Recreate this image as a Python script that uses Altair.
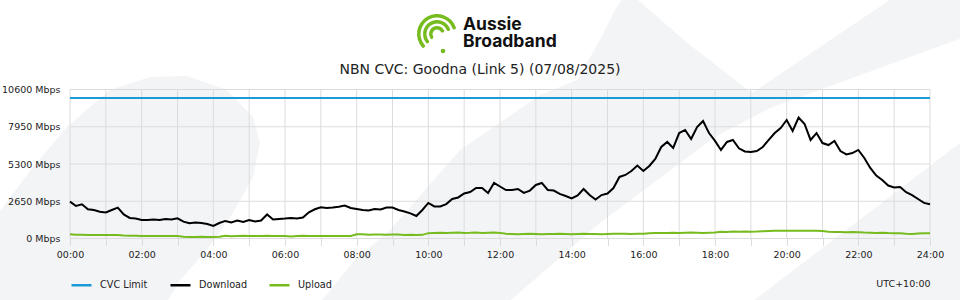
import altair as alt
import pandas as pd

# ---------------- data ----------------
times = [f"{m // 60:02d}:{m % 60:02d}" for m in range(0, 1441, 10)]

download = [
    2620, 2310, 2430, 2080, 2030, 1910, 1850, 2030, 2200, 1710,
    1460, 1420, 1320, 1320, 1350, 1320, 1390, 1350, 1440, 1200,
    1080, 1140, 1100, 1030, 890, 1100, 1250, 1140, 1270, 1170,
    1320, 1210, 1280, 1710, 1350, 1390, 1420, 1460, 1420, 1490,
    1860, 2080, 2220, 2170, 2200, 2260, 2350, 2170, 2100, 2030,
    2000, 2100, 2060, 2200, 2200, 2030, 1920, 1790, 1600, 2030,
    2530, 2280, 2280, 2450, 2810, 2920, 3200, 3310, 3590, 3590,
    3240, 3950, 3700, 3450, 3450, 3520, 3240, 3410, 3810, 3950,
    3450, 3410, 3170, 3020, 2850, 3060, 3520, 3090, 2770, 3090,
    3200, 3590, 4380, 4520, 4800, 5190, 4800, 5160, 5660, 6510,
    6870, 6440, 7500, 7720, 7080, 7930, 8360, 7500, 6940, 6300,
    6870, 7010, 6420, 6190, 6150, 6220, 6510, 7010, 7500, 7860,
    8430, 7650, 8600, 8150, 7010, 7500, 6790, 6650, 6940, 6220,
    5980, 6080, 6300, 5730, 5020, 4480, 4160, 3770, 3630, 3660,
    3290, 3090, 2810, 2530, 2430,
]

upload = [
    300, 260, 260, 250, 250, 250, 250, 250, 250,
    210, 190, 190, 180, 180, 180, 180, 180, 180, 170,
    130, 110, 110, 130, 110, 100, 120,
    190, 160, 180, 200, 170, 180, 180, 190, 170, 180, 180,
    150, 180, 190, 180, 180, 180, 170, 180, 180, 180, 180,
    300, 300, 260, 280, 290, 260, 280, 290, 250, 260, 250, 260,
    380, 400, 410, 400, 410, 420, 400, 410, 430, 400, 410, 420, 400,
    330, 320, 310, 320, 330, 320, 310, 320, 320, 330, 320, 310,
    320, 330, 320, 320, 310, 320, 330, 340, 330, 320, 330, 340,
    380, 390, 400, 400, 410, 400, 410, 420, 410, 400, 410, 420,
    480, 470, 490, 480, 500, 480, 490, 520, 540, 550, 560, 550,
    560, 560, 550, 560, 550, 540,
    480, 460, 470, 450, 460, 440, 420, 410, 400, 410, 390, 380,
    370, 330, 320, 350, 370, 370,
]

cvc_limit = 10000
series_names = ["CVC Limit", "Download", "Upload"]
series_colors = ["#1a9bd7", "#000000", "#77bc1f"]
y_ticks = [0, 2650, 5300, 7950, 10600]
hour_ticks = list(range(0, 25))
title_text = "NBN CVC: Goodna (Link 5) (07/08/2025)"
logo_lines = ["Aussie", "Broadband"]
timezone_label = "UTC+10:00"

# ---------------- layout ----------------
W, H = 860, 149
LEFT, TOP = 70, 89.5
FONT = "DejaVu Sans"
GRID = "#dcdcdc"
BG_SHAPE = "#f3f4f6"
GREEN = "#77bc1f"

rows = []
for t, d, u in zip(times, download, upload):
    h = int(t[:2]) + int(t[3:]) / 60
    rows.append({"hour": h, "series": "CVC Limit", "mbps": cvc_limit})
    rows.append({"hour": h, "series": "Download", "mbps": d})
    rows.append({"hour": h, "series": "Upload", "mbps": u})
df = pd.DataFrame(rows)

xscale = alt.Scale(domain=[0, 24], nice=False, zero=False)
yscale = alt.Scale(domain=[0, 10600], nice=False)

label_expr = "datum.value % 2 == 0 ? (datum.value < 10 ? '0' : '') + datum.value + ':00' : ''"
xaxis = alt.Axis(
    values=hour_ticks, labelExpr=label_expr, grid=False, domain=False, zindex=1,
    tickSize=7, tickColor=GRID, tickWidth=1, labelFlush=False, labelOverlap=False,
    labelFont=FONT, labelFontSize=9.5, labelColor="#222", labelPadding=4,
    title=timezone_label, titleAnchor="end", titleAlign="right", titleBaseline="middle",
    titleY=45, titleFont=FONT, titleFontSize=9.5, titleFontWeight="normal", titleColor="#222",
)
yaxis = alt.Axis(
    values=y_ticks, labelExpr="datum.value + ' Mbps'", grid=False, domain=False, zindex=1,
    ticks=False, labelPadding=10, labelFlush=False, labelOverlap=False, labelBound=False,
    title=None, labelFont=FONT, labelFontSize=9.5, labelColor="#222",
)

one = pd.DataFrame({"k": [0]})


# decorative watermark shapes (canvas pixel outlines -> symbol paths)
def shape_layer(pts, cx, cy, k=100):
    path = "M" + " L".join(f"{(x - cx) / k:.3f},{(y - cy) / k:.3f}" for x, y in pts) + " Z"
    return alt.Chart(one).mark_point(
        shape=path, size=(2 * k) ** 2, filled=True, color=BG_SHAPE, opacity=1, strokeWidth=0
    ).encode(x=alt.value(cx - LEFT), y=alt.value(cy - TOP))


left_blob = [(-10, 213), (0, 211), (33, 167), (67, 127), (110, 90), (150, 77), (187, 76),
             (227, 90), (253, 117), (260, 143), (253, 177), (233, 213), (207, 250),
             (180, 280), (165, 305), (-10, 305)]
mid_band = [(318, 305), (355, 260), (390, 230), (460, 150), (540, 95), (577, 80), (600, 40),
            (615, 10), (625, -5), (632, -5), (690, 45), (752, 93), (897, -5), (970, -5),
            (970, 35), (770, 108), (715, 137), (660, 178), (600, 223), (555, 262), (505, 305)]
right_band = [(748, 305), (960, 143), (970, 137), (970, 305)]

bg_layers = [
    shape_layer(left_blob, 130, 190),
    shape_layer(mid_band, 640, 150),
    shape_layer(right_band, 880, 230),
]

# grid (same axes as the lines so the layers merge cleanly)
hgrid = alt.Chart(pd.DataFrame({"mbps": y_ticks})).mark_rule(color=GRID, strokeWidth=1).encode(
    y=alt.Y("mbps:Q", scale=yscale, axis=yaxis)
)
vgrid = alt.Chart(pd.DataFrame({"hour": hour_ticks})).mark_rule(color=GRID, strokeWidth=1).encode(
    x=alt.X("hour:Q", scale=xscale, axis=xaxis)
)

lines = alt.Chart(df).mark_line(strokeWidth=2, interpolate="linear").encode(
    x=alt.X("hour:Q", scale=xscale, axis=xaxis),
    y=alt.Y("mbps:Q", scale=yscale, axis=yaxis),
    color=alt.Color(
        "series:N",
        scale=alt.Scale(domain=series_names, range=series_colors),
        legend=alt.Legend(
            orient="none", legendX=0, legendY=184, direction="horizontal", title=None,
            symbolType="stroke", symbolSize=400, symbolStrokeWidth=2.5,
            labelFont=FONT, labelFontSize=9.7, labelColor="#222", labelOffset=7,
            columnPadding=16, gridAlign="all", zindex=1,
        ),
    ),
    order=alt.Order("hour:Q"),
)

# chart title and logo (drawn as text above the plot)
title_mark = alt.Chart(one).mark_text(
    text=title_text, font=FONT, fontSize=14, color="#222", align="center", baseline="middle",
).encode(x=alt.value(480 - LEFT), y=alt.value(70 - TOP))

logo_marks = []
for line, base in zip(logo_lines, [30, 46.5]):
    logo_marks.append(
        alt.Chart(one).mark_text(
            text=line, font="Inter", fontSize=17.5, fontWeight="bold", color="#111",
            align="left", baseline="alphabetic",
        ).encode(x=alt.value(463 - LEFT), y=alt.value(base - TOP))
    )

logo_arcs = []
for r_out in [8, 14, 20]:
    logo_arcs.append(
        alt.Chart(one).mark_arc(
            radius=r_out, radius2=r_out - 3.5, theta=3.9, theta2=7.6,
            cornerRadius=1.7, color=GREEN,
        ).encode(x=alt.value(437 - LEFT), y=alt.value(34 - TOP))
    )
logo_dot = alt.Chart(one).mark_point(filled=True, size=22, color=GREEN, opacity=1).encode(
    x=alt.value(443 - LEFT), y=alt.value(51 - TOP)
)

chart = alt.layer(
    *bg_layers, hgrid, vgrid, lines, title_mark, *logo_marks, *logo_arcs, logo_dot
).properties(
    width=W,
    height=H,
    autosize=alt.AutoSizeParams(type="none"),
    padding={"left": LEFT, "top": TOP, "right": 960 - LEFT - W, "bottom": 300 - TOP - H},
    background="white",
).configure_view(stroke=None)

chart.save("out.html", embed_options={"renderer": "svg", "actions": False})
